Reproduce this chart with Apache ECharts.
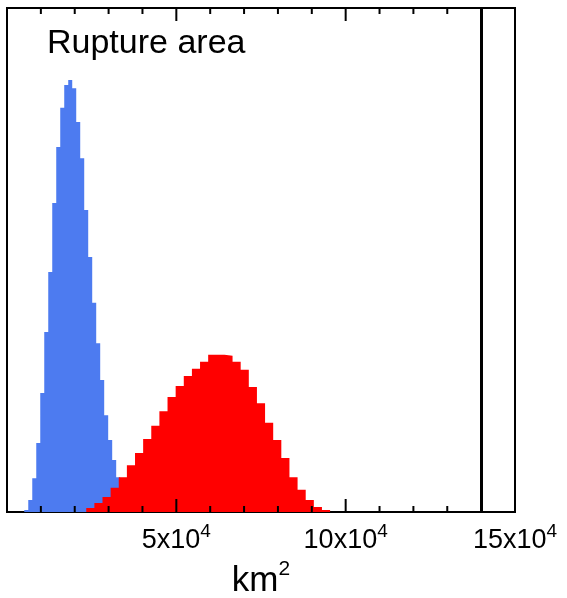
<!DOCTYPE html>
<html>
<head>
<meta charset="utf-8">
<script src="https://cdn.jsdelivr.net/npm/echarts@6/dist/echarts.min.js"></script>
<style>
  html, body { margin: 0; padding: 0; background: #fff; }
  #chart { width: 567px; height: 598px; }
</style>
</head>
<body>
<div id="chart"></div>
<script>
// histogram bins (left edge of first bin, bin width in km², relative frequency per bin)
const blueStart = 5100
const blueWidth = 1180
const blueHeights = [0.4, 2.4, 6.7, 13.7, 23.6, 35.7, 47.6, 61.3, 72.4, 80.2, 84.7, 85.7, 84.1, 77.4,
  70.2, 59.9, 50.6, 41.5, 33.5, 26.2, 19.2, 14.3, 10.3, 6.9, 4.4, 2.4, 1.2]

const redStart = 23400
const redWidth = 2400
const redHeights = [0.8, 1.8, 3.0, 4.8, 6.9, 9.3, 11.7, 14.5, 17.1, 20.0, 22.8, 25.0, 27.0, 28.4, 29.8,
  31.2, 31.2, 31.0, 29.8, 28.2, 24.8, 21.6, 17.7, 14.3, 10.7, 6.9, 4.4, 2.4, 1.0, 0.4]

const observed = 140000

const xMin = 0
const xMax = 150000
const yMax = 100
const minorTicks = [10000, 20000, 30000, 40000, 60000, 70000, 80000, 90000, 110000, 120000, 130000, 140000]
const majorTicks = [50000, 100000]
const tickLabels = [50000, 100000, 150000]

// turn bins into points for a stepped area
const toSteps = (start, width, heights) => {
  const pts = heights.map((h, i) => [start + i * width, h])
  pts.push([start + heights.length * width, 0])
  return pts
}

// inward tick marks on the frame, drawn as thin rect symbols sitting on the bottom / top edge
const tickSeries = (values, len) => ([
  { y: 0, dir: -1 },
  { y: yMax, dir: 1 },
]).map((side) => ({
  type: 'scatter',
  z: 10,
  silent: true,
  clip: false,
  symbol: 'rect',
  symbolSize: [2, len],
  symbolOffset: [0, side.dir * len / 2],
  itemStyle: { color: '#000', opacity: 1 },
  data: values.map((x) => [x, side.y]),
}))

const font = '"Liberation Sans", Arial, sans-serif'

const chart = echarts.init(document.getElementById('chart'))

chart.setOption({
  animation: false,
  title: {
    text: 'Rupture area',
    left: 42,
    top: 22,
    textStyle: { fontFamily: font, fontSize: 34, fontWeight: 'normal', color: '#000' },
  },
  grid: {
    left: 7,
    right: 52,
    top: 8,
    bottom: 86,
    outerBoundsMode: 'none',
    show: true,
    borderColor: '#000',
    borderWidth: 2,
  },
  xAxis: {
    type: 'value',
    min: xMin,
    max: xMax,
    interval: 50000,
    axisLine: { show: true, onZero: false, lineStyle: { color: '#000', width: 2 } },
    axisTick: { show: false },
    splitLine: { show: false },
    axisLabel: {
      show: true,
      margin: 10,
      formatter: (v) => (tickLabels.includes(v) ? `{b|${v / 10000}x10}{s|4}` : ''),
      rich: {
        b: { fontFamily: font, fontSize: 27, color: '#000', lineHeight: 32, verticalAlign: 'bottom' },
        s: { fontFamily: font, fontSize: 19, color: '#000', lineHeight: 19, verticalAlign: 'top' },
      },
    },
    name: '{a|km}{s|2}',
    nameLocation: 'middle',
    nameGap: 46,
    nameTextStyle: {
      rich: {
        a: { fontFamily: font, fontSize: 35, color: '#000', lineHeight: 40, verticalAlign: 'bottom' },
        s: { fontFamily: font, fontSize: 21, color: '#000', lineHeight: 30, verticalAlign: 'top' },
      },
    },
  },
  yAxis: {
    type: 'value',
    min: 0,
    max: yMax,
    axisLine: { show: false },
    axisTick: { show: false },
    axisLabel: { show: false },
    splitLine: { show: false },
  },
  series: [
    {
      name: 'prior',
      type: 'line',
      step: 'end',
      showSymbol: false,
      data: toSteps(blueStart, blueWidth, blueHeights),
      lineStyle: { width: 0 },
      areaStyle: { color: '#4d7bf0', opacity: 1 },
      itemStyle: { color: '#4d7bf0' },
    },
    {
      name: 'posterior',
      type: 'line',
      step: 'end',
      showSymbol: false,
      data: toSteps(redStart, redWidth, redHeights),
      lineStyle: { width: 0 },
      areaStyle: { color: '#ff0000', opacity: 1 },
      itemStyle: { color: '#ff0000' },
      markLine: {
        silent: true,
        symbol: ['none', 'none'],
        label: { show: false },
        lineStyle: { color: '#000', width: 3, type: 'solid' },
        data: [{ xAxis: observed }],
      },
    },
    ...tickSeries(minorTicks, 6),
    ...tickSeries(majorTicks, 13),
  ],
})
</script>
</body>
</html>
